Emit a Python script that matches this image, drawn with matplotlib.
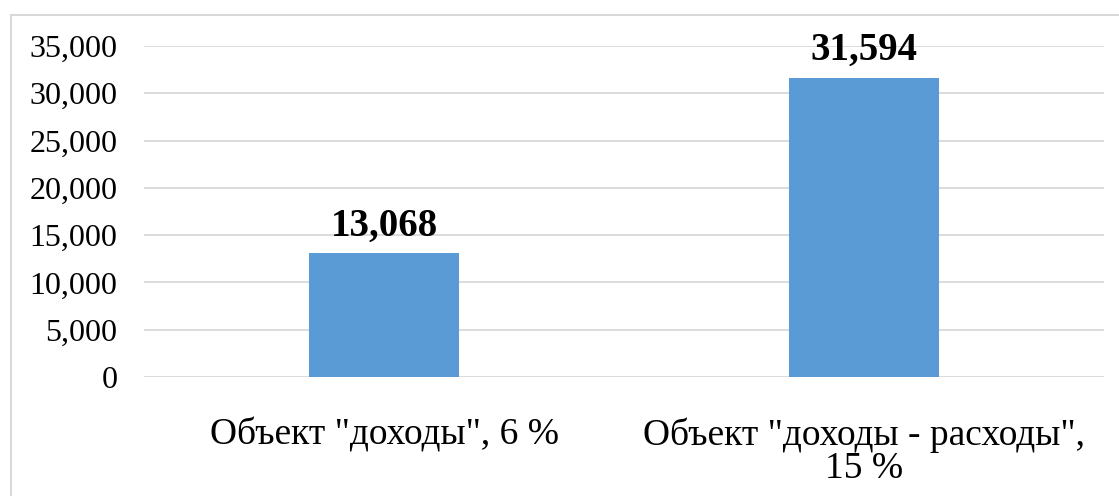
import matplotlib
matplotlib.use('Agg')
import matplotlib.pyplot as plt
from matplotlib.patches import Rectangle
from matplotlib.ticker import FuncFormatter

# data
categories = ['Объект "доходы", 6 %', 'Объект "доходы - расходы",\n15 %']
values = [13068, 31594]
yticks = [0, 5000, 10000, 15000, 20000, 25000, 30000, 35000]

plt.rcParams['font.family'] = ['Liberation Serif', 'DejaVu Serif']

W, H = 1119, 496
fig = plt.figure(figsize=(W / 100, H / 100), dpi=100)
ax = fig.add_axes([144 / W, (H - 377) / H, 960 / W, 331 / H])

# outer frame (clipped on right/bottom like the source)
fig.patches.append(Rectangle((11 / W, -0.1), 1.2, (H - 15) / H + 0.1,
                             transform=fig.transFigure, fill=False,
                             edgecolor='#d9d9d9', linewidth=1.5))

x = range(len(categories))
bars = ax.bar(x, values, width=0.3125, color='#5b9bd5', zorder=3)

for b, v in zip(bars, values):
    ax.annotate('{:,}'.format(v), (b.get_x() + b.get_width() / 2, v),
                xytext=(0, 6.5), textcoords='offset points',
                ha='center', va='bottom', fontsize=28, fontweight='bold')

ax.set_xlim(-0.5, 1.5)
ax.set_ylim(0, 35000)
ax.set_yticks(yticks)
ax.yaxis.set_major_formatter(FuncFormatter(lambda v, p: '{:,}'.format(int(v))))
ax.set_xticks(list(x))
ax.set_xticklabels(categories, va='top', linespacing=0.97, fontsize=27)
ax.tick_params(axis='both', length=0)
ax.tick_params(axis='y', labelsize=23, pad=19)
ax.tick_params(axis='x', pad=29)

ax.grid(axis='y', color='#d9d9d9', linewidth=1.3, zorder=0)
for s in ax.spines.values():
    s.set_visible(False)

plt.savefig('out.png', dpi=100)
